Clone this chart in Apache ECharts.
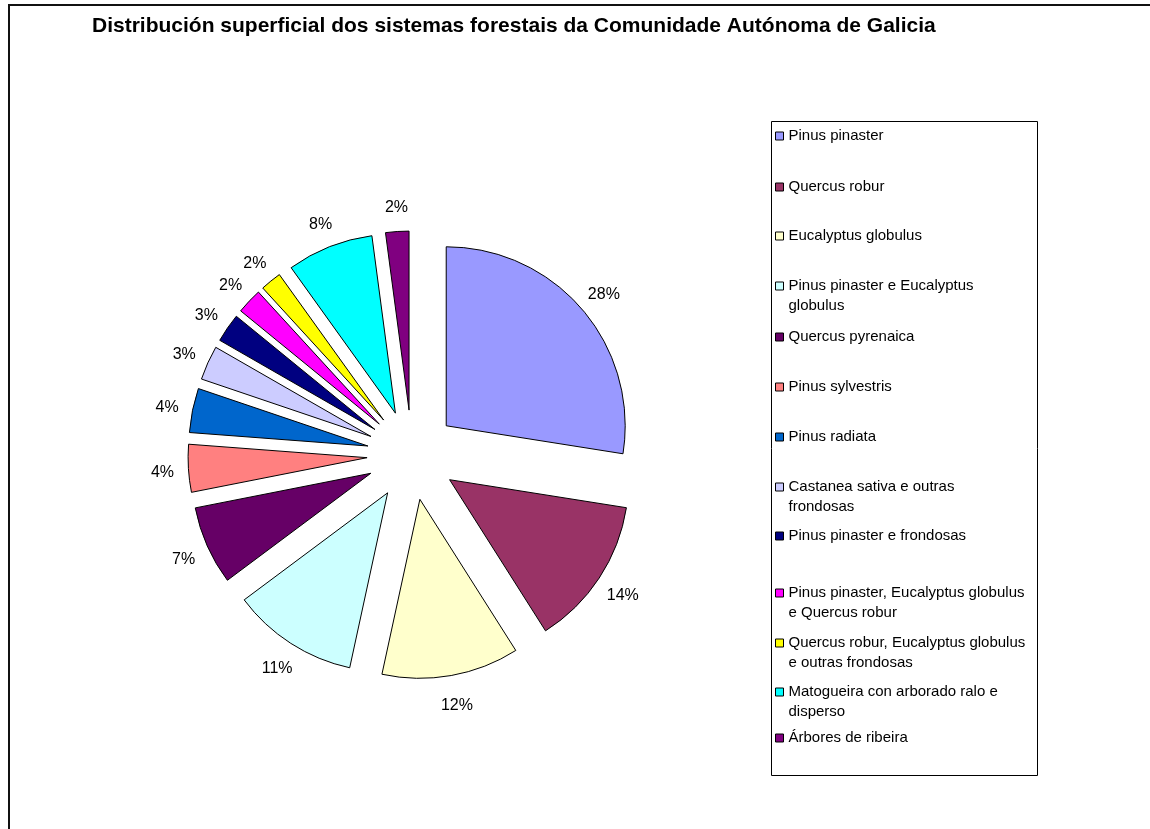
<!DOCTYPE html>
<html lang="gl">
<head>
    <meta charset="UTF-8">
    <title>Distribución superficial dos sistemas forestais</title>
    <script src="https://cdn.jsdelivr.net/npm/echarts@6/dist/echarts.min.js"></script>
    <style>
        html, body { margin: 0; padding: 0; background: #fff; }
        #main { width: 1150px; height: 829px; }
    </style>
</head>
<body>
<div id="main"></div>
<script>
    // categorias (orde do sector, desde as 12 en sentido horario)
    var names = [
        'Pinus pinaster',
        'Quercus robur',
        'Eucalyptus globulus',
        'Pinus pinaster e Eucalyptus globulus',
        'Quercus pyrenaica',
        'Pinus sylvestris',
        'Pinus radiata',
        'Castanea sativa e outras frondosas',
        'Pinus pinaster e frondosas',
        'Pinus pinaster, Eucalyptus globulus e Quercus robur',
        'Quercus robur, Eucalyptus globulus e outras frondosas',
        'Matogueira con arborado ralo e disperso',
        'Árbores de ribeira'
    ];
    // porcentaxe de superficie
    var values = [27.5, 13.5, 12.4, 11.4, 7.1, 4.3, 4.0, 3.1, 2.6, 2.3, 1.9, 7.8, 2.1];
    // texto da lenda con quebras de liña
    var legendLabels = [
        'Pinus pinaster',
        'Quercus robur',
        'Eucalyptus globulus',
        'Pinus pinaster e Eucalyptus\nglobulus',
        'Quercus pyrenaica',
        'Pinus sylvestris',
        'Pinus radiata',
        'Castanea sativa e outras\nfrondosas',
        'Pinus pinaster e frondosas',
        'Pinus pinaster, Eucalyptus globulus\ne Quercus robur',
        'Quercus robur, Eucalyptus globulus\ne outras frondosas',
        'Matogueira con arborado ralo e\ndisperso',
        'Árbores de ribeira'
    ];
    var colors = ['#9999FF', '#993366', '#FFFFCC', '#CCFFFF', '#660066', '#FF8080', '#0066CC',
        '#CCCCFF', '#000080', '#FF00FF', '#FFFF00', '#00FFFF', '#800080'];

    // posicion vertical da primeira liña de cada elemento da lenda
    var legendY = [136, 187, 236, 286, 337, 387, 437, 487, 536, 593, 643, 692, 738];

    var font = '"Liberation Sans", Arial, sans-serif';

    var pieData = names.map(function (n, i) {
        return {name: n, value: values[i], selected: true, itemStyle: {color: colors[i]}};
    });

    var legends = names.map(function (n, i) {
        var twoLines = legendLabels[i].indexOf('\n') >= 0;
        // unha liña baleira enriba para que a marca quede á altura da primeira liña
        var txt = twoLines ? ' \n' + legendLabels[i] : legendLabels[i];
        return {
            data: [n],
            left: 775,
            top: legendY[i] - (twoLines ? 30 : 10),
            padding: 0,
            orient: 'vertical',
            icon: 'rect',
            itemWidth: 8,
            itemHeight: 8,
            itemGap: 0,
            selectedMode: false,
            itemStyle: {borderColor: '#000', borderWidth: 1},
            formatter: function () { return txt; },
            textStyle: {
                fontFamily: font,
                fontSize: 15,
                color: '#000',
                lineHeight: 20
            }
        };
    });

    var chart = echarts.init(document.getElementById('main'));
    chart.setOption({
        animation: false,
        backgroundColor: '#fff',
        title: {
            text: 'Distribución superficial dos sistemas forestais da Comunidade Autónoma de Galicia',
            left: 92,
            top: 16,
            padding: 0,
            textStyle: {fontFamily: font, fontSize: 21, fontWeight: 'bold', color: '#000'}
        },
        legend: legends,
        graphic: [
            {type: 'rect', shape: {x: 771.5, y: 121.5, width: 266, height: 654}, style: {fill: 'none', stroke: '#000', lineWidth: 1}, silent: true},
            {type: 'polyline', shape: {points: [[9, 829], [9, 5], [1150, 5]]}, style: {fill: 'none', stroke: '#111', lineWidth: 2}, silent: true}
        ],
        series: [
            {
                type: 'pie',
                center: [412, 455],
                radius: 179,
                startAngle: 90,
                clockwise: true,
                selectedMode: 'multiple',
                selectedOffset: 45,
                avoidLabelOverlap: false,
                itemStyle: {borderColor: '#000', borderWidth: 1},
                label: {show: false},
                labelLine: {show: false},
                emphasis: {disabled: true},
                select: {itemStyle: {borderColor: '#000', borderWidth: 1}},
                data: pieData
            },
            {
                // anel transparente só para as etiquetas de porcentaxe
                type: 'pie',
                center: [413, 458],
                radius: [238, 258],
                startAngle: 90,
                clockwise: true,
                silent: true,
                selectedMode: false,
                percentPrecision: 0,
                avoidLabelOverlap: false,
                itemStyle: {color: 'rgba(0,0,0,0)', borderWidth: 0},
                label: {
                    show: true,
                    position: 'inside',
                    formatter: '{d}%',
                    fontFamily: font,
                    fontSize: 16,
                    color: '#000'
                },
                labelLine: {show: false},
                emphasis: {disabled: true},
                data: names.map(function (n, i) { return {name: n, value: values[i]}; })
            }
        ]
    });
</script>
</body>
</html>
